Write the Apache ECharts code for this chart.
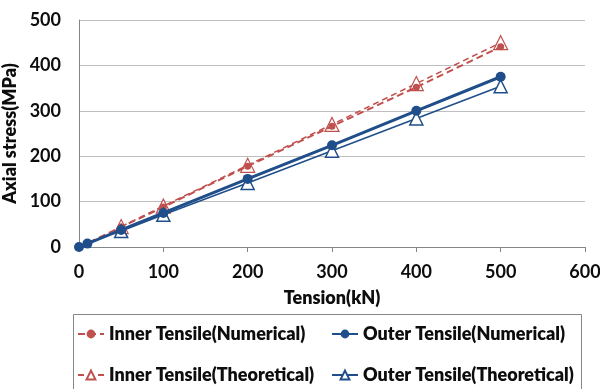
<!DOCTYPE html>
<html>
<head>
<meta charset="utf-8">
<script src="https://cdn.jsdelivr.net/npm/echarts@6/dist/echarts.min.js"></script>
<style>
html,body{margin:0;padding:0;background:#fff;}
#chart{width:600px;height:389px;}
</style>
</head>
<body>
<div id="chart"></div>
<script>
// Tension (kN) sample points
const tensionNumerical = [0, 10, 50, 100, 200, 300, 400, 500];
const tensionTheoretical = [50, 100, 200, 300, 400, 500];

// Axial stress (MPa)
const innerNumerical = [0, 8.8, 44, 88, 178, 266, 352, 441];
const outerNumerical = [0, 7.5, 37.5, 75, 150, 224, 300, 375];
const innerTheoretical = [45, 90, 180, 270, 360, 450];
const outerTheoretical = [35, 71, 141, 212, 283, 354];

const seriesNames = [
  'Inner Tensile(Numerical)',
  'Outer Tensile(Numerical)',
  'Inner Tensile(Theoretical)',
  'Outer Tensile(Theoretical)'
];

const RED = '#C0504D';
const BLUE = '#1F4E8A';
const FONT = 'Lato';
const TEXT = '#0d0d0d';

function pairs(xs, ys) { return xs.map((x, i) => [x, ys[i]]); }

function textStyle(w) {
  return { fontFamily: FONT, fontWeight: w || 'bold', fontSize: 18, color: TEXT };
}

// one legend block per entry so the 2x2 layout is fixed
function legendAt(name, left, top) {
  return {
    data: [name], left: left, top: top, orient: 'horizontal',
    itemWidth: 26, itemHeight: 11, padding: 0,
    textStyle: textStyle(800)
  };
}

const chart = echarts.init(document.getElementById('chart'), null, { renderer: 'canvas' });

chart.setOption({
  animation: false,
  backgroundColor: '#fff',
  grid: { left: 79, right: 15, top: 20, bottom: 142, containLabel: false, outerBoundsMode: 'none' },
  xAxis: {
    type: 'value', min: 0, max: 600, interval: 100,
    name: 'Tension(kN)', nameLocation: 'middle', nameGap: 42,
    nameTextStyle: textStyle(800),
    axisLine: { show: true, lineStyle: { color: '#868686', width: 1 } },
    axisTick: { show: true, length: 5, lineStyle: { color: '#868686' } },
    axisLabel: Object.assign(textStyle(), { margin: 16 }),
    splitLine: { show: false }
  },
  yAxis: {
    type: 'value', min: 0, max: 500, interval: 100,
    name: 'Axial stress(MPa)', nameLocation: 'middle', nameGap: 54,
    nameTextStyle: textStyle(800),
    axisLine: { show: true, lineStyle: { color: '#868686', width: 1 } },
    axisTick: { show: false },
    axisLabel: Object.assign(textStyle(), { margin: 18 }),
    splitLine: { show: true, lineStyle: { color: '#BFBFBF', width: 1 } }
  },
  legend: [
    legendAt(seriesNames[0], 77, 325),
    legendAt(seriesNames[1], 331, 325),
    legendAt(seriesNames[2], 77, 366),
    legendAt(seriesNames[3], 331, 366)
  ],
  graphic: [{
    type: 'rect', shape: { x: 73.5, y: 314.5, width: 508, height: 90 },
    style: { fill: 'none', stroke: '#868686', lineWidth: 1 }, z: -1
  }],
  series: [
    {
      name: seriesNames[2], type: 'line', data: pairs(tensionTheoretical, innerTheoretical),
      lineStyle: { color: RED, width: 1.5, type: [6, 4] },
      itemStyle: { color: '#fff', borderColor: RED, borderWidth: 1.2 },
      symbol: 'triangle', symbolSize: 14, showAllSymbol: true, z: 2
    },
    {
      name: seriesNames[0], type: 'line', data: pairs(tensionNumerical, innerNumerical),
      lineStyle: { color: RED, width: 2, type: [7, 4] },
      itemStyle: { color: RED, borderColor: RED, borderWidth: 0 },
      symbol: 'circle', symbolSize: 7, showAllSymbol: true, z: 3
    },
    {
      name: seriesNames[3], type: 'line', data: pairs(tensionTheoretical, outerTheoretical),
      lineStyle: { color: BLUE, width: 1.5 },
      itemStyle: { color: '#fff', borderColor: BLUE, borderWidth: 1.5 },
      symbol: 'triangle', symbolSize: 13, showAllSymbol: true, z: 4
    },
    {
      name: seriesNames[1], type: 'line', data: pairs(tensionNumerical, outerNumerical),
      lineStyle: { color: BLUE, width: 3 },
      itemStyle: { color: BLUE, borderColor: BLUE, borderWidth: 0 },
      symbol: 'circle', symbolSize: 10, showAllSymbol: true, z: 5
    }
  ]
});
</script>
</body>
</html>
